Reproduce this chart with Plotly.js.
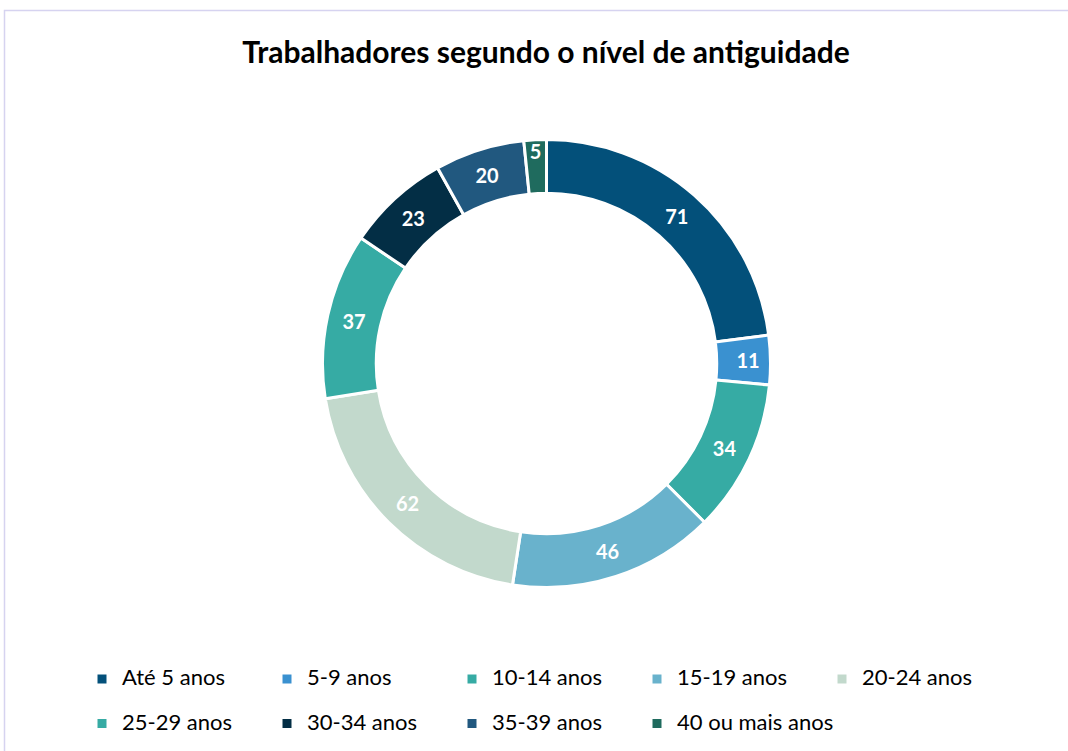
<!DOCTYPE html>
<html>
<head>
<meta charset="utf-8">
<script src="https://cdn.plot.ly/plotly-3.0.1.min.js"></script>
<style>html,body{margin:0;padding:0;background:#fff;}#chart{width:1068px;height:751px;}</style>
</head>
<body>
<div id="chart"></div>
<script>
const categories = ["Até 5 anos","5-9 anos","10-14 anos","15-19 anos","20-24 anos","25-29 anos","30-34 anos","35-39 anos","40 ou mais anos"];
const values = [71, 11, 34, 46, 62, 37, 23, 20, 5];
const colors = ["#03507A","#3A91D0","#36ABA4","#69B2CC","#C2D9CC","#36ABA4","#032E45","#21587F","#1F6B5E"];

const W = 1068, H = 751;
const cx = 546.5, cy = 363.5, R = 224;

// legend text: larger visible font, with an empty second line to set row spacing
const legendLabels = categories.map(c => '<span style="font-size:22px">' + c + '</span><br> ');

const trace = {
  type: 'pie',
  labels: legendLabels,
  values: values,
  sort: false,
  direction: 'clockwise',
  rotation: 0,
  hole: 0.76,
  marker: {colors: colors, line: {color: '#FFFFFF', width: 3}},
  textinfo: 'value',
  textposition: 'inside',
  insidetextorientation: 'horizontal',
  textfont: {family: 'Lato, sans-serif', size: 20, color: '#FFFFFF', weight: 'bold'},
  domain: {x: [(cx - R) / W, (cx + R) / W], y: [(H - cy - R) / H, (H - cy + R) / H]},
  hoverinfo: 'value'
};

const layout = {
  width: W, height: H,
  margin: {l: 0, r: 0, t: 0, b: 0, autoexpand: false},
  paper_bgcolor: '#FFFFFF',
  uniformtext: {mode: 'show', minsize: 20},
  title: {text: '<b>Trabalhadores segundo o nível de antiguidade</b>', font: {family: 'Lato, sans-serif', size: 30, color: '#000000'}, x: 546 / W, xanchor: 'center', y: 1 - 52 / H, yanchor: 'middle'},
  showlegend: true,
  legend: {orientation: 'h', x: 82 / W, xanchor: 'left', y: 1 - 662 / H, yanchor: 'top', valign: 'top',
    font: {family: 'Lato, sans-serif', size: 16, color: '#000000'},
    entrywidth: 140, entrywidthmode: 'pixels', traceorder: 'normal', itemclick: false},
  shapes: [{type: 'rect', xref: 'paper', yref: 'paper', x0: 4.5 / W, x1: 1.01, y0: -0.01, y1: 1 - 10.5 / H, line: {color: '#D6D3F0', width: 1.5}, fillcolor: 'rgba(0,0,0,0)', layer: 'below'}]
};

Plotly.newPlot('chart', [trace], layout, {displayModeBar: false, staticPlot: true});
</script>
</body>
</html>
